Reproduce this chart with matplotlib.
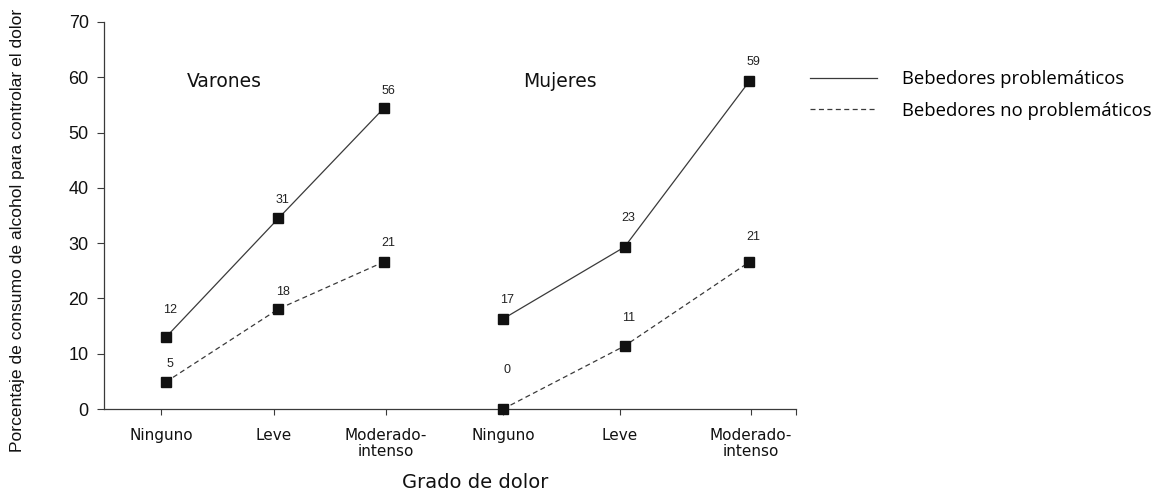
import matplotlib.pyplot as plt
from matplotlib.lines import Line2D

categorias = ['Ninguno', 'Leve', 'Moderado-\nintenso', 'Ninguno', 'Leve', 'Moderado-\nintenso']

# porcentajes (altura de los puntos)
varones_prob = [13.0, 34.5, 54.4]
varones_noprob = [4.9, 18.1, 26.6]
mujeres_prob = [16.3, 29.3, 59.3]
mujeres_noprob = [0.0, 11.4, 26.6]

# numeros impresos sobre cada punto
etiq_varones_prob = ['12', '31', '56']
etiq_varones_noprob = ['5', '18', '21']
etiq_mujeres_prob = ['17', '23', '59']
etiq_mujeres_noprob = ['0', '11', '21']

# posiciones en el eje x
x_ticks = [0.0, 1.0, 2.0, 3.04, 4.08, 5.24]
x_puntos = [0.044, 1.044, 1.98, 3.04, 4.12, 5.23]
# desplazamiento vertical (px) de cada numero sobre su punto
off_vp = [27, 18, 17]
off_vn = [18, 17, 19]
off_mp = [19, 29, 19]
off_mn = [39, 28, 25]

color = '#3a3a3a'
fig = plt.figure(figsize=(11.65, 4.92), dpi=100)
ax = fig.add_axes([104 / 1165, 1 - 409 / 492, (796 - 104) / 1165, (409 - 22) / 492])

estilo_prob = dict(color=color, lw=0.9, marker='s', ms=7.5, mfc='#111111', mec='#111111')
estilo_noprob = dict(color=color, lw=0.9, marker='s', ms=7.5, mfc='#111111', mec='#111111',
                     ls=(0, (4, 2.75)))

series = [
    (x_puntos[:3], varones_prob, etiq_varones_prob, off_vp, estilo_prob),
    (x_puntos[:3], varones_noprob, etiq_varones_noprob, off_vn, estilo_noprob),
    (x_puntos[3:], mujeres_prob, etiq_mujeres_prob, off_mp, estilo_prob),
    (x_puntos[3:], mujeres_noprob, etiq_mujeres_noprob, off_mn, estilo_noprob),
]
for xs, ys, etiq, offs, est in series:
    ax.plot(xs, ys, clip_on=False, zorder=3, **est)
    for x, y, t, o in zip(xs, ys, etiq, offs):
        ax.annotate(t, (x, y), xytext=(3, o * 0.72), textcoords='offset points',
                    ha='center', va='center', fontsize=9, family='Liberation Sans',
                    color='#222222')

ax.set_xlim(-0.507, 5.644)
ax.set_ylim(0, 70)
ax.set_yticks(range(0, 71, 10))
ax.set_xticks(x_ticks + [5.644])
ax.set_xticklabels(categorias + [''], fontsize=11, family='DejaVu Sans', linespacing=1.05)
for lab in ax.get_yticklabels():
    lab.set_family('Liberation Sans')
    lab.set_fontsize(13)
ax.tick_params(axis='y', length=5, width=0.8, color=color, pad=6, labelcolor='#111111')
ax.tick_params(axis='x', length=4, width=0.8, color=color, pad=10, labelcolor='#111111')
for s in ['top', 'right']:
    ax.spines[s].set_visible(False)
for s in ['left', 'bottom']:
    ax.spines[s].set_color(color)
    ax.spines[s].set_linewidth(0.9)

ax.text(0.23, 59.2, 'Varones', fontsize=13.5, family='DejaVu Sans', va='center', color='#111111')
ax.text(3.22, 59.2, 'Mujeres', fontsize=13.5, family='DejaVu Sans', va='center', color='#111111')

fig.text(475 / 1165, 1 - 483 / 492, 'Grado de dolor', fontsize=14, family='DejaVu Sans',
         ha='center', va='center', color='#111111')
fig.text(18 / 1165, 1 - 230 / 492, 'Porcentaje de consumo de alcohol para controlar el dolor',
         rotation=90, fontsize=12.6, family='Liberation Sans', ha='center', va='center',
         color='#111111')

handles = [Line2D([], [], color=color, lw=0.9),
           Line2D([], [], color=color, lw=0.9, ls=(0, (4, 2.75)))]
fig.legend(handles, ['Bebedores problemáticos', 'Bebedores no problemáticos'],
           loc='upper left', bbox_to_anchor=(810 / 1165, 1 - 70 / 492), frameon=False,
           prop={'family': 'Open Sans', 'size': 13.3}, handlelength=3.65,
           handletextpad=1.35, labelspacing=0.75, borderpad=0, borderaxespad=0)

plt.savefig('out.png', dpi=100)
